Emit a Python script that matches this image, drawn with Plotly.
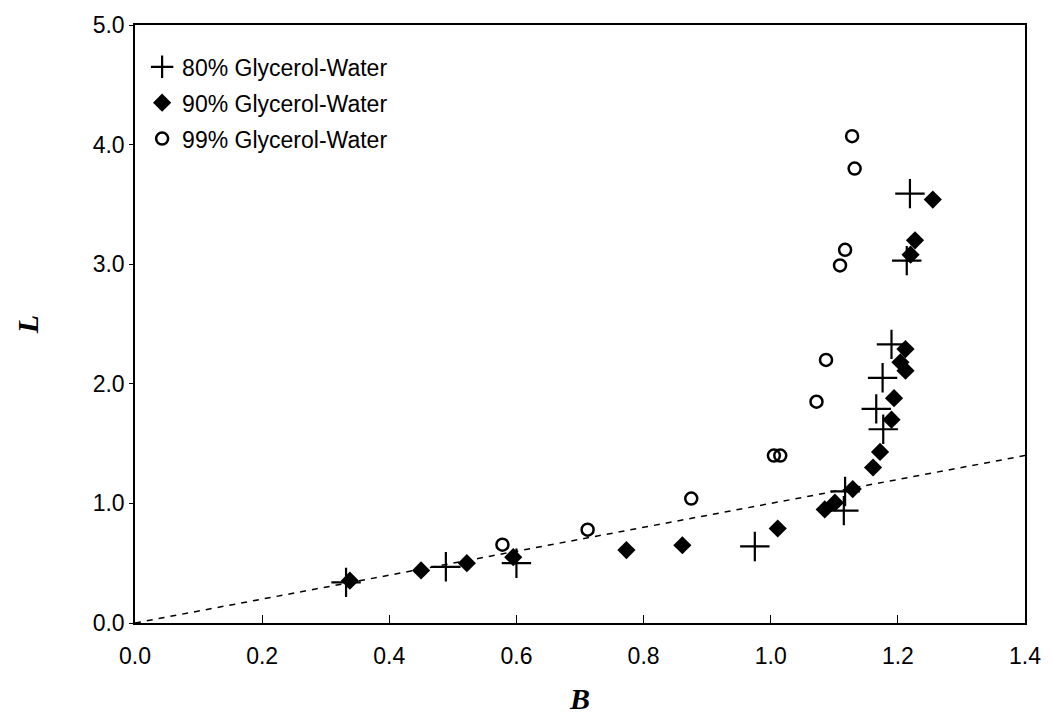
import plotly.graph_objects as go

# Dimensionless groups B (abscissa) and L (ordinate) for three glycerol-water mixtures
b_80 = [0.332, 0.489, 0.600, 0.975, 1.115, 1.117, 1.177, 1.166, 1.176, 1.190, 1.214, 1.219]
l_80 = [0.34, 0.47, 0.50, 0.64, 0.94, 1.10, 1.62, 1.79, 2.05, 2.33, 3.03, 3.59]

b_90 = [0.338, 0.450, 0.522, 0.595, 0.773, 0.861, 1.011, 1.085, 1.101, 1.129,
        1.161, 1.172, 1.190, 1.194, 1.212, 1.204, 1.212, 1.220, 1.227, 1.255]
l_90 = [0.354, 0.44, 0.50, 0.55, 0.61, 0.65, 0.79, 0.95, 1.006, 1.12,
        1.30, 1.43, 1.70, 1.88, 2.11, 2.18, 2.29, 3.08, 3.20, 3.54]

b_99 = [0.578, 0.712, 0.875, 1.005, 1.015, 1.072, 1.087, 1.109, 1.117, 1.132, 1.128]
l_99 = [0.655, 0.78, 1.04, 1.40, 1.40, 1.85, 2.20, 2.99, 3.12, 3.80, 4.07]

# Reference line L = B
line_b = [0.0, 1.4]
line_l = [0.0, 1.4]

x_ticks = [0.0, 0.2, 0.4, 0.6, 0.8, 1.0, 1.2, 1.4]
y_ticks = [0.0, 1.0, 2.0, 3.0, 4.0, 5.0]

fig = go.Figure()

fig.add_trace(go.Scatter(
    x=line_b, y=line_l, mode="lines",
    line=dict(color="black", width=1.5, dash="6px,6px"),
    showlegend=False, hoverinfo="skip",
))

fig.add_trace(go.Scatter(
    x=b_80, y=l_80, mode="markers", name="80% Glycerol-Water",
    legendgroup="g80",
    marker=dict(symbol="cross-thin", size=21, color="black",
                line=dict(color="black", width=2.2)),
))
fig.add_trace(go.Scatter(
    x=b_90, y=l_90, mode="markers", name="90% Glycerol-Water",
    legendgroup="g90",
    marker=dict(symbol="diamond", size=14, color="black"),
))
fig.add_trace(go.Scatter(
    x=b_99, y=l_99, mode="markers", name="99% Glycerol-Water",
    legendgroup="g99",
    marker=dict(symbol="circle-open", size=12, color="black",
                line=dict(color="black", width=2.5)),
))

axis_font = dict(family="Liberation Sans, Arial, sans-serif", size=23, color="black")
title_font = dict(family="Liberation Serif, Times New Roman, serif", size=30, color="black")

fig.update_layout(
    width=1053, height=727,
    margin=dict(l=135, r=25, t=15, b=104),
    paper_bgcolor="white", plot_bgcolor="white",
    showlegend=True,
    legend=dict(
        x=0.008, y=0.966, xanchor="left", yanchor="top",
        bgcolor="rgba(0,0,0,0)",
        font=dict(family="Liberation Sans, Arial, sans-serif", size=23, color="black"),
        tracegroupgap=3, itemwidth=30,
    ),
    xaxis=dict(
        range=[0, 1.4], tickvals=x_ticks,
        ticktext=[f"{v:.1f}" for v in x_ticks],
        ticks="inside", ticklen=8, tickwidth=1, tickcolor="black",
        ticklabelstandoff=12,
        showline=True, linecolor="black", linewidth=1.5, mirror=True,
        showgrid=False, zeroline=False, tickfont=axis_font,
        title=dict(text="<b><i>B</i></b>", font=title_font, standoff=20),
    ),
    yaxis=dict(
        range=[0, 5], tickvals=y_ticks,
        ticktext=[f"{v:.1f}" for v in y_ticks],
        ticks="outside", ticklen=4, tickwidth=1, tickcolor="black",
        showline=True, linecolor="black", linewidth=1.5, mirror=True,
        showgrid=False, zeroline=False, tickfont=axis_font,
        title=dict(text="<b><i>L</i></b>", font=title_font, standoff=45),
    ),
)

fig.write_html("out.html")
